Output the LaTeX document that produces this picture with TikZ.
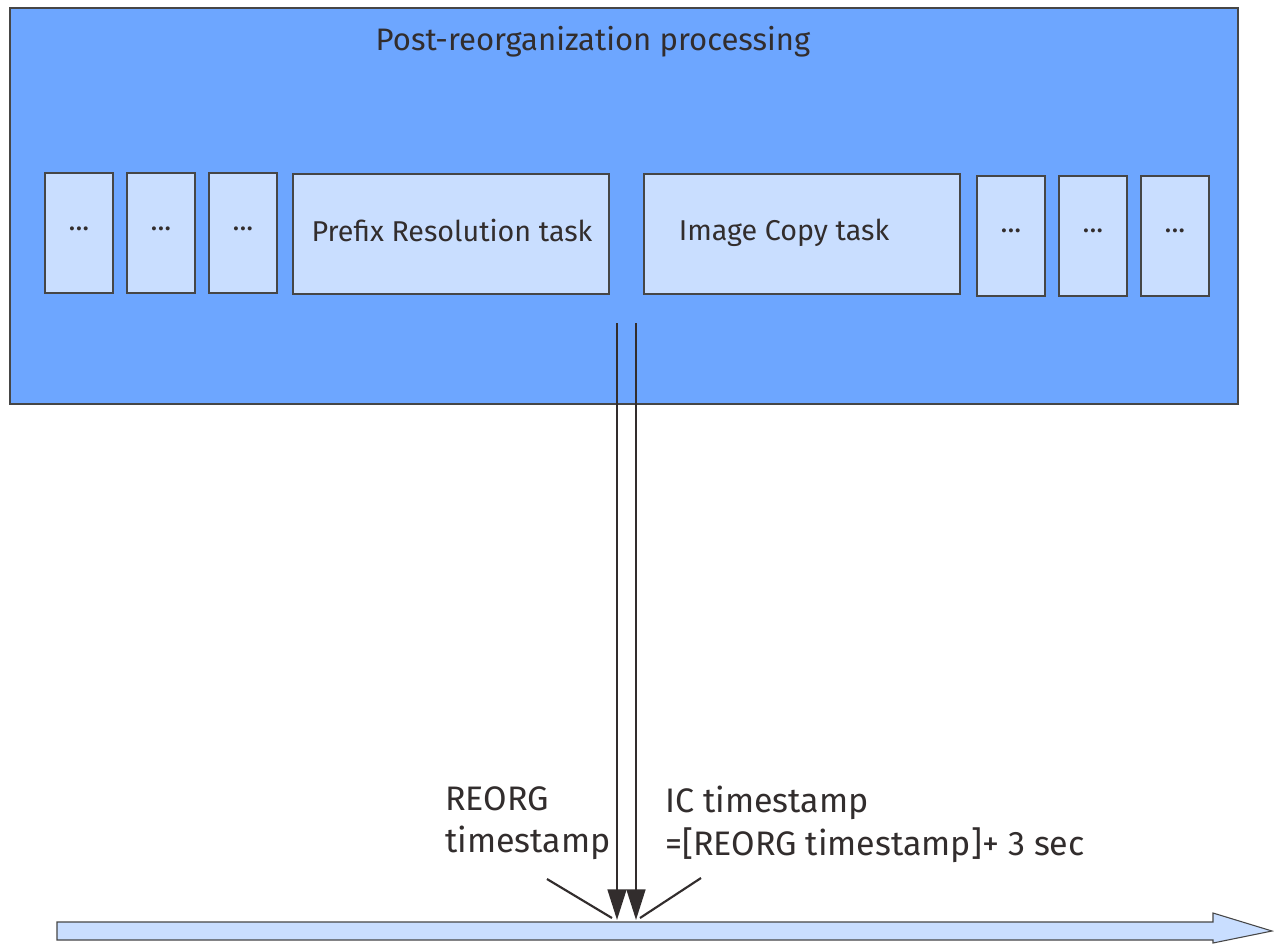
\documentclass[tikz,border=0pt]{standalone}
\usepackage{fontspec}
\setmainfont{Fira Sans}
\usetikzlibrary{arrows.meta}
\definecolor{outerblue}{RGB}{109,166,255}
\definecolor{innerblue}{RGB}{201,222,255}
\definecolor{edgegray}{RGB}{70,70,70}
\definecolor{ink}{RGB}{50,45,45}
\tikzset{
  outerbox/.style={draw=edgegray, line width=0.9pt, fill=outerblue},
  taskbox/.style={draw=edgegray, line width=0.8pt, fill=innerblue},
  boxtext/.style={font=\fontsize{21.5}{26}\selectfont, text=ink},
  labeltext/.style={font=\fontsize{25.5}{32}\selectfont, text=ink, align=left, anchor=north west, inner sep=0pt},
  timearrow/.style={ink, line width=2pt, -{Triangle[length=23pt,width=14pt]}},
  pointer/.style={ink, line width=1.6pt},
}
\begin{document}
\begin{tikzpicture}[x=0.75pt,y=-0.75pt]
\useasboundingbox (0,0) rectangle (1274,943);
\fill[white] (0,0) rectangle (1274,943);
% outer container
\draw[outerbox] (10,8) rectangle (1238,404);
\node[font=\fontsize{23.3}{28}\selectfont, text=ink] (title) at (593,42) {Post-reorganization processing};
% left small boxes
\draw[taskbox] (45,173) rectangle (113,293);
\node[boxtext] (l1) at (79,229) {...};
\draw[taskbox] (127,173) rectangle (195,293);
\node[boxtext] (l2) at (161,229) {...};
\draw[taskbox] (209,173) rectangle (277,293);
\node[boxtext] (l3) at (243,229) {...};
% named tasks
\draw[taskbox] (293,174) rectangle (609,294);
\node[boxtext] (prefix) at (452,230) {Prefix Resolution task};
\draw[taskbox] (644,174) rectangle (960,294);
\node[boxtext] (ic) at (784,233) {Image Copy task};
% right small boxes
\draw[taskbox] (977,176) rectangle (1045,296);
\node[boxtext] (r1) at (1011,231) {...};
\draw[taskbox] (1059,176) rectangle (1127,296);
\node[boxtext] (r2) at (1093,231) {...};
\draw[taskbox] (1141,176) rectangle (1209,296);
\node[boxtext] (r3) at (1175,231) {...};
% timeline arrow
\draw[draw=edgegray, line width=0.8pt, fill=innerblue]
  (57,922) -- (1213,922) -- (1213,913) -- (1272,931) -- (1213,943) -- (1213,940) -- (57,940) -- cycle;
% arrow coordinates
\coordinate (s1) at (617,323);
\coordinate (e1) at (617,920);
\coordinate (s2) at (636,323);
\coordinate (e2) at (636,920);
\coordinate (p1a) at (547,879);
\coordinate (p1b) at (612,918);
\coordinate (p2a) at (701,878);
\coordinate (p2b) at (640,918);
\draw[timearrow] (s1) -- (e1);
\draw[timearrow] (s2) -- (e2);
\draw[pointer] (p1a) -- (p1b);
\draw[pointer] (p2a) -- (p2b);
% labels
\node[labeltext] (reorg) at (445,786) {REORG\\timestamp};
\node[labeltext] (icts) at (665,786) {IC timestamp\\=[REORG timestamp]+ 3 sec};
\end{tikzpicture}
\end{document}
